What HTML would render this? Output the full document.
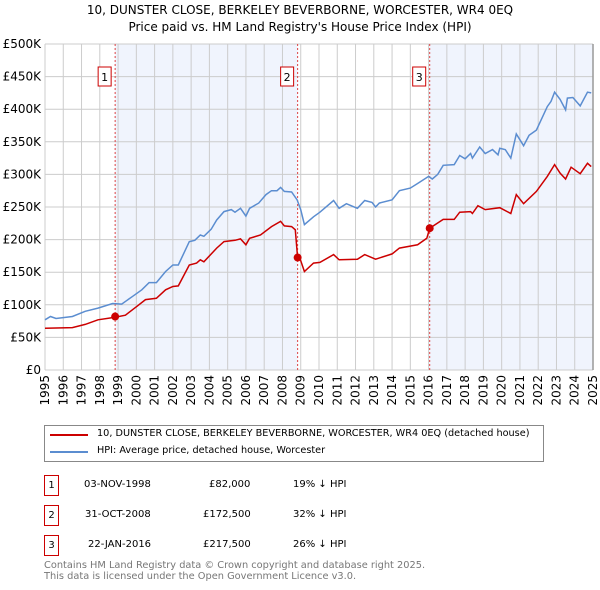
<!DOCTYPE html>
<html><head><meta charset="utf-8"><style>
body{margin:0;background:#fff;font-family:"DejaVu Sans","Liberation Sans",sans-serif;}
#wrap{position:relative;width:600px;height:590px;overflow:hidden;}
.t{position:absolute;font-size:10px;color:#000;white-space:nowrap;}
.box{position:absolute;width:13px;height:19px;border:1px solid #c00;font-size:10px;text-align:center;line-height:19px;}
</style></head><body><div id="wrap">
<svg id="chart" width="600" height="420" style="position:absolute;left:0;top:0"></svg>
<div style="position:absolute;left:44px;top:425px;width:498px;height:35px;border:1px solid #888;">
 <div><div style="position:absolute;left:5px;top:8px;width:38px;height:2px;background:#c00"></div><div class="t" style="left:52px;top:2px;font-size:9.7px">10, DUNSTER CLOSE, BERKELEY BEVERBORNE, WORCESTER, WR4 0EQ (detached house)</div></div>
 <div><div style="position:absolute;left:5px;top:25px;width:38px;height:2px;background:#5b8dd0"></div><div class="t" style="left:52px;top:19px;font-size:9.7px">HPI: Average price, detached house, Worcester</div></div>
</div>
<div><div class="box" style="left:44px;top:475px">1</div><div class="t" style="left:84px;top:479px">03-NOV-1998</div><div class="t" style="left:209px;top:479px">£82,000</div><div class="t" style="left:293px;top:479px">19% ↓ HPI</div></div>
<div><div class="box" style="left:44px;top:505px">2</div><div class="t" style="left:85px;top:509px">31-OCT-2008</div><div class="t" style="left:203px;top:509px">£172,500</div><div class="t" style="left:293px;top:509px">32% ↓ HPI</div></div>
<div><div class="box" style="left:44px;top:535px">3</div><div class="t" style="left:88px;top:539px">22-JAN-2016</div><div class="t" style="left:203px;top:539px">£217,500</div><div class="t" style="left:293px;top:539px">26% ↓ HPI</div></div>
<div class="t" style="left:44px;top:561px;font-size:9.8px;color:#777;line-height:10.5px">Contains HM Land Registry data © Crown copyright and database right 2025.<br>This data is licensed under the Open Government Licence v3.0.</div>
</div>
<script>
const yearTicks=[1995,1996,1997,1998,1999,2000,2001,2002,2003,2004,2005,2006,2007,2008,2009,2010,2011,2012,2013,2014,2015,2016,2017,2018,2019,2020,2021,2022,2023,2024,2025];
const valueTicks=[0,50,100,150,200,250,300,350,400,450,500];
const valueTickLabels=["£0","£50K","£100K","£150K","£200K","£250K","£300K","£350K","£400K","£450K","£500K"];
const hpiYears=[1995,1995.3,1995.6,1996.5,1997.2,1997.9,1998.7,1999.2,1999.8,2000.3,2000.7,2001.1,2001.6,2002,2002.3,2002.9,2003.2,2003.5,2003.7,2004.1,2004.4,2004.8,2005.2,2005.4,2005.7,2006,2006.2,2006.7,2007.1,2007.4,2007.7,2007.9,2008.1,2008.5,2008.8,2009.0,2009.2,2009.7,2010.05,2010.8,2011.1,2011.5,2012.1,2012.5,2012.9,2013.1,2013.3,2014,2014.4,2015,2015.4,2016,2016.2,2016.5,2016.8,2017.4,2017.7,2018,2018.3,2018.4,2018.8,2019.1,2019.5,2019.8,2019.9,2020.2,2020.5,2020.8,2021.2,2021.5,2021.9,2022.5,2022.7,2022.9,2023.2,2023.5,2023.6,2023.9,2024.3,2024.7,2024.9];
const hpiValues=[77,82,79,82,90,95,102,101,113,123,134,134,151,161,161,197,199,207,205,216,230,243,246,242,248,236,248,256,269,275,275,280,274,273,261,246,223,235,242,260,248,255,248,260,257,250,256,261,275,279,286,297,293,300,314,315,329,324,332,325,342,332,338,330,340,338,325,362,344,360,368,404,412,426,415,399,417,418,405,426,425];
const priceYears=[1995,1996.5,1997.2,1997.9,1998.84,1999.4,2000,2000.5,2001.1,2001.6,2002,2002.3,2002.9,2003.3,2003.5,2003.7,2004.4,2004.8,2005.4,2005.7,2006,2006.2,2006.8,2007.4,2007.9,2008.1,2008.5,2008.7,2008.83,2008.96,2009.2,2009.7,2010.05,2010.8,2011.1,2012.1,2012.5,2013.1,2014,2014.4,2015.4,2015.9,2016.06,2016.8,2017.4,2017.7,2018.3,2018.4,2018.7,2019.1,2019.9,2020.5,2020.8,2021.2,2021.9,2022.5,2022.9,2023.2,2023.5,2023.8,2024.3,2024.7,2024.9];
const priceValues=[64,65,70,77,81,84,97,108,110,123,128,129,161,164,169,166,187,197,199,201,192,202,207,220,228,221,220,215,172.5,171,151,164,165,177,169,170,177,170,178,187,192,202,217.5,231,231,242,243,240,252,246,249,240,269,255,274,297,315,302,293,311,301,317,312];
const saleYears=[1998.84,2008.83,2016.06];
const saleValues=[82,172.5,217.5];
const saleLabels=["1","2","3"];
const NS="http://www.w3.org/2000/svg";
const svg=document.getElementById('chart');
const L=45,R=593,T=44,B=370;
const x=y=>L+(y-1995)/30*(R-L);
const yv=v=>B-v/500*(B-T);
function mk(tag,attrs,parent){const e=document.createElementNS(NS,tag);for(const k in attrs)e.setAttribute(k,attrs[k]);(parent||svg).appendChild(e);return e;}
[[saleYears[0],saleYears[1]],[saleYears[2],2025]].forEach((r,i)=>{const e=mk('rect',{x:x(r[0]),y:T,width:x(r[1])-x(r[0]),height:B-T,fill:'#f0f4fd'});

});
yearTicks.forEach(t=>{const e=mk('line',{x1:x(t),x2:x(t),y1:T,y2:B,stroke:'#ccc','stroke-width':1});


const lb=mk('text',{x:0,y:0,transform:`translate(${x(t)+4},${B+5}) rotate(-90)`,'text-anchor':'end','font-size':12,'font-family':'DejaVu Sans,sans-serif'});lb.textContent=t;

});
valueTicks.forEach((v,i)=>{const e=mk('line',{x1:L,x2:R,y1:yv(v),y2:yv(v),stroke:'#ccc','stroke-width':1});


const lb=mk('text',{x:L-4,y:yv(v)+4,'text-anchor':'end','font-size':12,'font-family':'DejaVu Sans,sans-serif'});lb.textContent=valueTickLabels[i];

});
mk('line',{x1:R,x2:R,y1:T,y2:B,stroke:'#999','stroke-width':1.5});
saleYears.forEach((s,i)=>{const e=mk('line',{x1:x(s),x2:x(s),y1:T,y2:B,stroke:'#d44','stroke-width':1,'stroke-dasharray':'2,2'});


const g=mk('g',{});


mk('rect',{x:x(s)-17,y:67,width:13,height:19,fill:'#fff',stroke:'#c00'},g);
const tx=mk('text',{x:x(s)-10.5,y:81,'text-anchor':'middle','font-size':11,'font-family':'DejaVu Sans,sans-serif'},g);tx.textContent=saleLabels[i];});
function pts(xs,vs){return xs.map((t,i)=>x(t).toFixed(1)+','+yv(vs[i]).toFixed(1)).join(' ');}
const hp=mk('polyline',{points:pts(hpiYears,hpiValues),fill:'none',stroke:'#5b8dd0','stroke-width':1.5});


const pp=mk('polyline',{points:pts(priceYears,priceValues),fill:'none',stroke:'#c00','stroke-width':1.5});


saleYears.forEach((s,i)=>{const c=mk('circle',{cx:x(s),cy:yv(saleValues[i]),r:4,fill:'#c00'});

});
const t1=mk('text',{x:300,y:14,'text-anchor':'middle','font-size':12,'font-family':'DejaVu Sans,sans-serif'});t1.textContent='10, DUNSTER CLOSE, BERKELEY BEVERBORNE, WORCESTER, WR4 0EQ';


const t2=mk('text',{x:300,y:31,'text-anchor':'middle','font-size':12,'font-family':'DejaVu Sans,sans-serif'});t2.textContent="Price paid vs. HM Land Registry's House Price Index (HPI)";


</script></body></html>
